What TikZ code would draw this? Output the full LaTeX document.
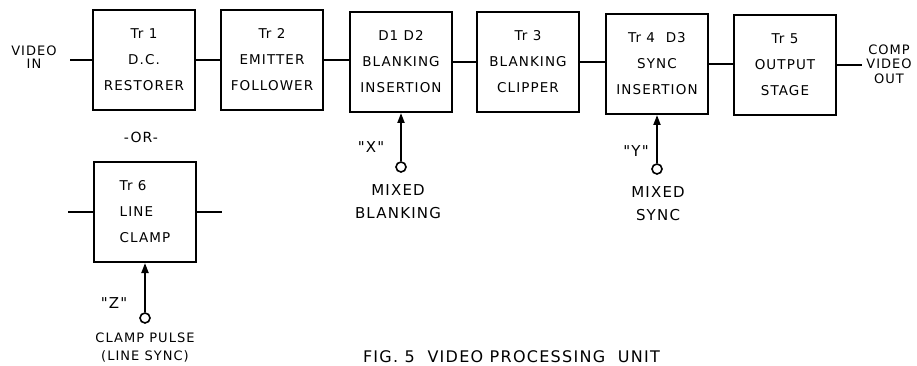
\documentclass[tikz,border=0pt]{standalone}
\usepackage{fontspec}
\newfontfamily\hand[LetterSpace=8]{DejaVu Sans}
\usetikzlibrary{arrows.meta}
\begin{document}
\begin{tikzpicture}[x=1pt,y=-1pt,
  line width=2pt,
  blk/.style={draw, rectangle, minimum width=102pt, minimum height=100pt, inner sep=0pt, align=center,
    font=\hand\fontsize{13.5}{26}\selectfont},
  lbl/.style={inner sep=0pt, align=center, font=\hand\fontsize{13}{13}\selectfont},
  term/.style={draw, circle, minimum size=10pt, inner sep=0pt, line width=1.6pt},
  inarrow/.style={-{Triangle[length=10pt,width=7pt]}}
]
\useasboundingbox (0,0) rectangle (917,366);
% main chain
\node[blk] (b1) at (144,60) {Tr 1\\D.C.\\RESTORER};
\node[blk] (b2) at (272,60) {Tr 2\\EMITTER\\FOLLOWER};
\node[blk] (b3) at (401,62) {D1 D2\\BLANKING\\INSERTION};
\node[blk] (b4) at (528,62) {Tr 3\\BLANKING\\CLIPPER};
\node[blk] (b5) at (657,64) {Tr 4 \ D3\\SYNC\\INSERTION};
\node[blk] (b6) at (785,65) {Tr 5\\OUTPUT\\STAGE};
\draw (b1.east) -- (b1.east -| b2.west);
\draw (b2.east) -- (b2.east -| b3.west);
\draw (b3.east) -- (b3.east -| b4.west);
\draw (b4.east) -- (b4.east -| b5.west);
\draw (b5.east) -- (b5.east -| b6.west);
% input / output
\coordinate (vin) at (70,60);
\coordinate (vout) at (862,65);
\draw (vin) -- (b1.west);
\draw (b6.east) -- (vout);
\node[lbl] (tin) at (34,57) {VIDEO\\IN};
\node[lbl, font=\hand\fontsize{13}{14.5}\selectfont] (tout) at (889,64) {COMP\\VIDEO\\OUT};
% X input
\node[term] (cx) at (401,167) {};
\draw[inarrow] (cx.north) -- (cx.north |- b3.south);
\node[lbl, font=\hand\fontsize{15}{15}\selectfont] (lx) at (371,147) {"X"};
\node[lbl, font=\hand\fontsize{15}{23}\selectfont] (tx) at (398,202) {MIXED\\BLANKING};
% Y input
\node[term] (cy) at (657,169) {};
\draw[inarrow] (cy.north) -- (cy.north |- b5.south);
\node[lbl, font=\hand\fontsize{15}{15}\selectfont] (ly) at (636,151) {"Y"};
\node[lbl, font=\hand\fontsize{15}{23}\selectfont] (ty) at (658,204) {MIXED\\SYNC};
% alternative
\node[lbl, font=\hand\fontsize{14}{14}\selectfont] (or) at (141,137) {-OR-};
\node[blk, align=left] (b7) at (145,212) {Tr 6\\LINE\\CLAMP};
\coordinate (l7) at (68,212);
\coordinate (r7) at (222,212);
\draw (l7) -- (b7.west);
\draw (b7.east) -- (r7);
\node[term] (cz) at (145,318) {};
\draw[inarrow] (cz.north) -- (cz.north |- b7.south);
\node[lbl, font=\hand\fontsize{15}{15}\selectfont] (lz) at (114,303) {"Z"};
\node[lbl, font=\hand\fontsize{13}{18}\selectfont] (tz) at (145,348) {CLAMP PULSE\\(LINE SYNC)};
% caption
\node[lbl, font=\hand\fontsize{16}{16}\selectfont, anchor=base west] (cap) at (362,362) {FIG. 5 \ VIDEO PROCESSING \ UNIT};
\end{tikzpicture}
\end{document}
